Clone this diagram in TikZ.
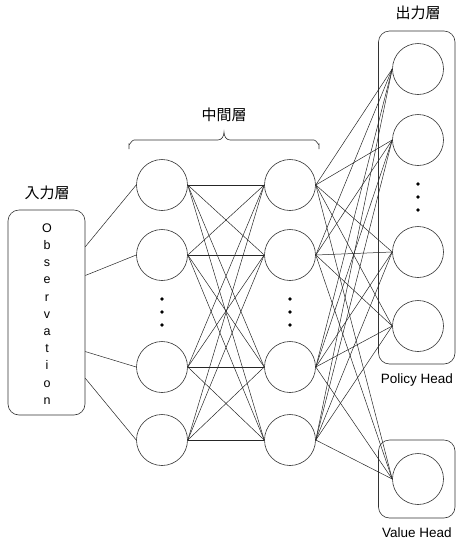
\documentclass[tikz,border=0pt]{standalone}
\usepackage{fontspec}
\setmainfont{Liberation Sans}
\newfontfamily\jpfont{Noto Sans CJK JP}
\usetikzlibrary{calc}
\begin{document}
\begin{tikzpicture}[x=1pt,y=-1pt,
  neuron/.style={circle,draw=black!80,line width=0.6pt,minimum size=51pt,inner sep=0pt},
  link/.style={draw=black!85,line width=0.5pt},
  headbox/.style={draw=black!80,line width=0.6pt,rounded corners=11pt},
  dotmark/.style={circle,fill=black,inner sep=0pt,minimum size=3.6pt},
  lbl/.style={inner sep=0pt,font=\fontsize{13.5}{16}\selectfont},
  jlbl/.style={inner sep=0pt,font=\jpfont\fontsize{15}{18}\selectfont}]
\useasboundingbox (0,0) rectangle (456,542);

% input layer
\node[headbox,minimum width=77pt,minimum height=205pt,inner sep=0pt] (inp) at (46.5,312.5) {};
\node[align=center,inner sep=0pt,font=\fontsize{12.5}{17.2}\selectfont] (obs) at (47,314)
  {O\\b\\s\\e\\r\\v\\a\\t\\i\\o\\n};
\node[jlbl] (inlbl) at (47,193) {入力層};

% hidden layers
\foreach \i/\y in {1/185,2/255,3/367,4/440}{
  \node[neuron] (a\i) at (162,\y) {};
  \node[neuron] (b\i) at (290,\y) {};
}
\foreach \d/\y in {1/299,2/312,3/325}{
  \node[dotmark] (ad\d) at (162,\y) {};
  \node[dotmark] (bd\d) at (290,\y) {};
}
\node[jlbl] (midlbl) at (224,115) {中間層};
\draw[draw=black!80,line width=0.6pt] (129,149) -- (129,144) to[out=-90,in=180] (134,140)
  -- (218,140) to[out=0,in=-90] (224,132) to[out=-90,in=180] (230,140)
  -- (314,140) to[out=0,in=-90] (319,144) -- (319,149);

% output layer
\node[headbox,minimum width=76.5pt,minimum height=333pt,inner sep=0pt] (pol) at (416.75,197.5) {};
\node[headbox,minimum width=76.5pt,minimum height=78pt,inner sep=0pt] (val) at (416.75,479) {};
\foreach \i/\y in {1/69,2/140,3/252,4/326,5/479}{
  \node[neuron] (c\i) at (418,\y) {};
}
\foreach \d/\y in {1/184,2/197,3/210}{
  \node[dotmark] (cd\d) at (418,\y) {};
}
\node[jlbl] (outlbl) at (418,13) {出力層};
\node[lbl] (pollbl) at (417,380) {Policy Head};
\node[lbl] (vallbl) at (417,533) {Value Head};

% connections
\draw[link] ($(inp.north east)!0.18!(inp.south east)$) -- (a1.west);
\draw[link] ($(inp.north east)!0.32!(inp.south east)$) -- (a2.west);
\draw[link] ($(inp.north east)!0.69!(inp.south east)$) -- (a3.west);
\draw[link] ($(inp.north east)!0.82!(inp.south east)$) -- (a4.west);
\foreach \i in {1,...,4}{
  \foreach \j in {1,...,4}{
    \draw[link] (a\i.east) -- (b\j.west);
  }
  \foreach \k in {1,...,5}{
    \draw[link] (b\i.east) -- (c\k.west);
  }
}
\end{tikzpicture}
\end{document}
